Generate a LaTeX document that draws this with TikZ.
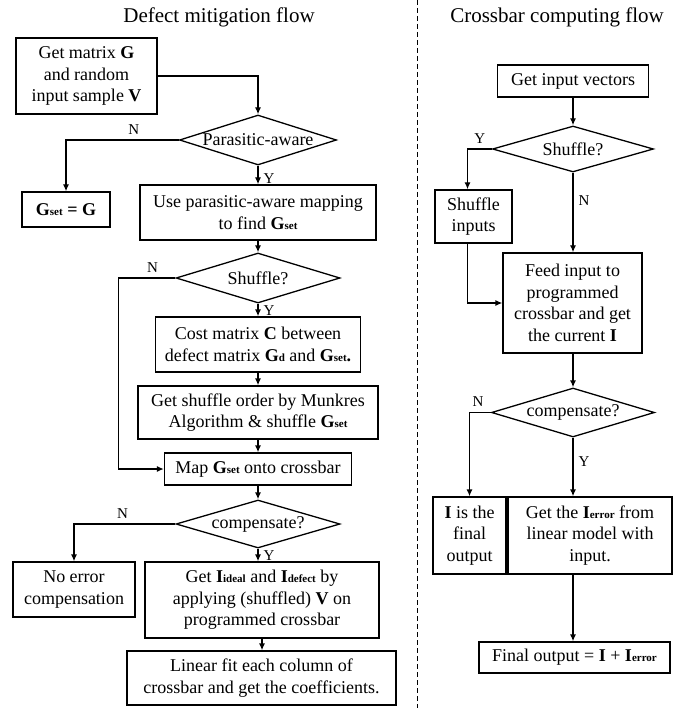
\documentclass[tikz,border=0pt]{standalone}
\usepackage{fontspec}
\setmainfont{Liberation Serif}
\usetikzlibrary{arrows.meta}
\usetikzlibrary{shapes.geometric}
\newcommand{\bsub}[2]{\textbf{#1}{\fontsize{11}{11}\selectfont\textbf{#2}}}

\begin{document}
\begin{tikzpicture}[x=1pt, y=-1pt,
  every node/.style={font=\fontsize{18}{21.5}\selectfont},
  blk/.style={draw, line width=1.3pt, align=center, inner sep=0pt},
  decide/.style={draw, diamond, line width=1.3pt, inner sep=0pt},
  flow/.style={line width=1.3pt, -{Latex[length=7pt, width=6pt]}},
  yn/.style={font=\fontsize{15}{18}\selectfont, inner sep=5pt},
  head/.style={font=\fontsize{21}{25}\selectfont}]
  \useasboundingbox (0,0) rectangle (689,708);

  \node[head] (t1) at (219,17) {Defect mitigation flow};
  \node[head] (t2) at (557,17) {Crossbar computing flow};
  \draw[line width=1pt, dash pattern=on 5pt off 3pt] (417,0) -- (417,708);

  \node[blk, minimum width=141pt, minimum height=76pt] (getg) at (86.5,76)
     {Get matrix \textbf{G}\\and random\\input sample \textbf{V}};
  \node[decide, minimum width=157pt, minimum height=50pt,
     label=center:Parasitic-aware] (para) at (258,140) {};
  \node[blk, minimum width=88pt, minimum height=35pt] (gset) at (66,209.5)
     {\bsub{G}{set} \textbf{= G}};
  \node[blk, minimum width=236pt, minimum height=55pt] (pmap) at (258,212.5)
     {Use parasitic-aware mapping\\to find \bsub{G}{set}};
  \node[decide, minimum width=164pt, minimum height=50pt,
     label=center:Shuffle?] (shuf) at (258,278) {};
  \node[blk, minimum width=205pt, minimum height=55pt] (cost) at (258,344.5)
     {Cost matrix \textbf{C} between\\defect matrix \bsub{G}{d} and \bsub{G}{set}\textbf{.}};
  \node[blk, minimum width=240pt, minimum height=53pt] (munk) at (258,412.5)
     {Get shuffle order by Munkres\\Algorithm \& shuffle \bsub{G}{set}};
  \node[blk, minimum width=187pt, minimum height=32pt] (mapx) at (258,469)
     {Map \bsub{G}{set} onto crossbar};
  \node[decide, minimum width=164pt, minimum height=48pt,
     label=center:compensate?] (comp) at (258,524) {};
  \node[blk, minimum width=122pt, minimum height=55pt] (noerr) at (74,589.5)
     {No error\\compensation};
  \node[blk, minimum width=234pt, minimum height=76pt] (geti) at (262,600)
     {Get \bsub{I}{ideal} and \bsub{I}{defect} by\\applying (shuffled) \textbf{V} on\\programmed crossbar};
  \node[blk, minimum width=269pt, minimum height=54pt] (lfit) at (261.5,678)
     {Linear fit each column of\\crossbar and get the coefficients.};

  \node[blk, minimum width=151pt, minimum height=32pt] (vin) at (573,81)
     {Get input vectors};
  \node[decide, minimum width=161pt, minimum height=46pt,
     label=center:Shuffle?] (shuf2) at (573,149) {};
  \node[blk, minimum width=77pt, minimum height=53pt] (shin) at (473.5,216.5)
     {Shuffle\\inputs};
  \node[blk, minimum width=139pt, minimum height=100pt] (feed) at (572.5,303)
     {Feed input to\\programmed\\crossbar and get\\the current \textbf{I}};
  \node[decide, minimum width=163pt, minimum height=49pt,
     label=center:compensate?] (comp2) at (573,412.5) {};
  \node[blk, minimum width=73pt, minimum height=77pt] (fin) at (469.5,535.5)
     {\textbf{I} is the\\final\\output};
  \node[blk, minimum width=164pt, minimum height=77pt] (ierr) at (590,535.5)
     {Get the \bsub{I}{error} from\\linear model with\\input.};
  \node[blk, minimum width=191pt, minimum height=31pt] (fout) at (574.5,657.5)
     {Final output = \textbf{I} + \bsub{I}{error}};

  \draw[flow] (getg.east) -| (para.north);
  \draw[flow] (para.west) -| node[yn, pos=0.2, above] {N} (gset.north);
  \draw[flow] (para.south) -- node[yn, pos=0.7, right] {Y} (pmap.north);
  \draw[flow] (pmap.south) -- (shuf.north);
  \draw[flow] (shuf.west) -- node[yn, pos=0.4, above] {N} ++(-57,0) |- (mapx.west);
  \draw[flow] (shuf.south) -- node[yn, pos=0.57, right] {Y} (cost.north);
  \draw[flow] (cost.south) -- (munk.north);
  \draw[flow] (munk.south) -- (mapx.north);
  \draw[flow] (mapx.south) -- (comp.north);
  \draw[flow] (comp.west) -| node[yn, pos=0.26, above] {N} (noerr.north);
  \draw[flow] (comp.south) -- node[yn, pos=0.57, right] {Y} (comp.south |- geti.north);
  \draw[flow] (geti.south) -- (geti.south |- lfit.north);

  \draw[flow] (vin.south) -- (shuf2.north);
  \draw[flow] (shuf2.west) -| node[yn, pos=0.25, above] {Y} ([xshift=-6pt]shin.north);
  \draw[flow] ([xshift=-6pt]shin.south) |- (feed.west);
  \draw[flow] (shuf2.south) -- node[yn, pos=0.35, right] {N} (shuf2.south |- feed.north);
  \draw[flow] (shuf2.south |- feed.south) -- (comp2.north);
  \draw[flow] (comp2.west) -| node[yn, pos=0.3, above] {N} (fin.north);
  \draw[flow] (comp2.south) -- node[yn, pos=0.4, right] {Y} (comp2.south |- ierr.north);
  \draw[flow] (comp2.south |- ierr.south) -- (comp2.south |- fout.north);
\end{tikzpicture}
\end{document}
